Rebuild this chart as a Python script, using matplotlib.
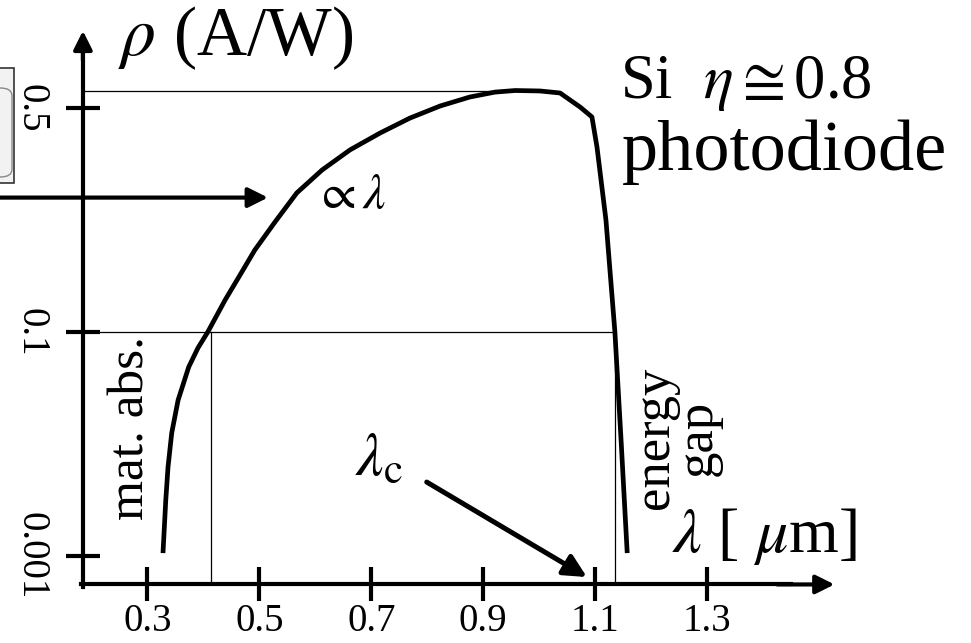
import matplotlib
matplotlib.use("Agg")
import matplotlib.pyplot as plt
from matplotlib.patches import Rectangle, FancyBboxPatch

plt.rcParams['font.family'] = ['Liberation Serif', 'DejaVu Serif']
plt.rcParams['mathtext.fontset'] = 'stix'

# responsivity curve of a Si photodiode (schematic level scale: 0 -> 0.001, 1 -> 0.1, 2 -> 0.5)
lam = [0.328, 0.333, 0.337, 0.3436, 0.355, 0.374, 0.3905, 0.408, 0.439, 0.4655,
       0.492, 0.528, 0.567, 0.612, 0.662, 0.7155, 0.769, 0.823, 0.876, 0.921,
       0.957, 1.001, 1.037, 1.073, 1.094, 1.103, 1.119, 1.135, 1.146, 1.157]
level = [0.013, 0.25, 0.397, 0.549, 0.696, 0.844, 0.929, 1.0, 1.143, 1.254,
         1.366, 1.491, 1.621, 1.723, 1.813, 1.888, 1.955, 2.009, 2.049, 2.071,
         2.078, 2.076, 2.067, 2.004, 1.960, 1.826, 1.5, 1.0, 0.518, 0.013]

x_ticks = [0.3, 0.5, 0.7, 0.9, 1.1, 1.3]
x_labels = ['0.3', '0.5', '0.7', '0.9', '1.1', '1.3']
y_ticks = [0, 1, 2]
y_labels = ['0.001', '0.1', '0.5']

lam_lo = 0.413     # 0.1 A/W crossing (material absorption side)
lam_c = 1.135      # cut-off (energy gap side)
peak_lam = 0.957
peak_level = 2.078

x0, y0 = 0.185, -0.127   # axis origin

fig = plt.figure(figsize=(9.71, 6.43), dpi=100)
ax = fig.add_axes([0, 0, 1, 1])
ax.set_xlim(0.03696, 1.77089)
ax.set_ylim(-0.3884, 2.4821)

ax.plot(lam, level, color='black', lw=3.4, solid_capstyle='butt',
        solid_joinstyle='round', zorder=3)

# thin guide lines
ax.plot([x0, lam_c], [1, 1], color='black', lw=0.9)
ax.plot([lam_lo, lam_lo], [y0, 1], color='black', lw=0.9)
ax.plot([lam_c, lam_c], [y0, 1], color='black', lw=0.9)
ax.plot([x0, peak_lam], [peak_level, peak_level], color='black', lw=0.9)

# axes as spines with arrows
for s in ['top', 'right']:
    ax.spines[s].set_visible(False)
ax.spines['left'].set_position(('data', x0))
ax.spines['bottom'].set_position(('data', y0))
ax.spines['left'].set_bounds(y0 - 0.01, 2.25)
ax.spines['bottom'].set_bounds(x0 - 0.004, 1.45)
for s in ['left', 'bottom']:
    ax.spines[s].set_linewidth(3)
ax.annotate('', xy=(x0, 2.357), xytext=(x0, 2.2),
            arrowprops=dict(arrowstyle='-|>', color='black', lw=3, mutation_scale=28))
ax.annotate('', xy=(1.532, y0), xytext=(1.42, y0),
            arrowprops=dict(arrowstyle='-|>', color='black', lw=3, mutation_scale=28))

ax.set_xticks(x_ticks, x_labels)
ax.set_yticks(y_ticks, y_labels)
ax.tick_params(direction='inout', length=24, width=3, labelsize=28)
ax.tick_params(axis='x', pad=1)
ax.tick_params(axis='y', pad=12)
for t in ax.get_yticklabels():
    t.set_rotation(270)
    t.set_va('center')

# labels
ax.text(0.248, 2.237, r'$\rho$ (A/W)', fontsize=50, ha='left', va='baseline')
ax.text(1.144, 2.045, r'Si  $\eta\cong$0.8', fontsize=45, ha='left', va='baseline')
ax.text(1.147, 1.723, 'photodiode', fontsize=52, ha='left', va='baseline')
ax.text(0.662, 1.607, r'$\propto\lambda$', fontsize=36, ha='center', va='center')
ax.text(1.237, 0.018, r'$\lambda$ [ $\mu$m]', fontsize=46, ha='left', va='baseline')
ax.text(0.671, 0.362, r'$\lambda_{\rm c}$', fontsize=44, ha='left', va='baseline')
ax.text(0.272, 0.571, 'mat. abs.', fontsize=37, rotation=90, ha='center', va='center')
ax.text(1.245, 0.527, 'energy\ngap', fontsize=38, rotation=90, ha='center', va='center',
        multialignment='center', linespacing=0.85)

ax.annotate('', xy=(0.5155, 1.600), xytext=(0.0, 1.600),
            arrowprops=dict(arrowstyle='-|>', color='black', lw=3, mutation_scale=30,
                            shrinkA=0, shrinkB=0))
ax.annotate('', xy=(1.085, -0.094), xytext=(0.799, 0.330),
            arrowprops=dict(arrowstyle='-|>', color='black', lw=3.6, mutation_scale=34,
                            shrinkA=0, shrinkB=0))

# clipped widget at the left edge
fig.patches.append(Rectangle((-0.01, 1 - 183 / 643), 14 / 971 + 0.01, 115 / 643,
                             transform=fig.transFigure, facecolor='#f2f2f2',
                             edgecolor='#333333', lw=1.2))
fig.patches.append(FancyBboxPatch((-0.02, 1 - 177 / 643), 12 / 971 + 0.02, 89 / 643,
                                  boxstyle='round,pad=0,rounding_size=0.012',
                                  transform=fig.transFigure, facecolor='none',
                                  edgecolor='#888888', lw=1.0))

fig.savefig('out.png', dpi=100)
